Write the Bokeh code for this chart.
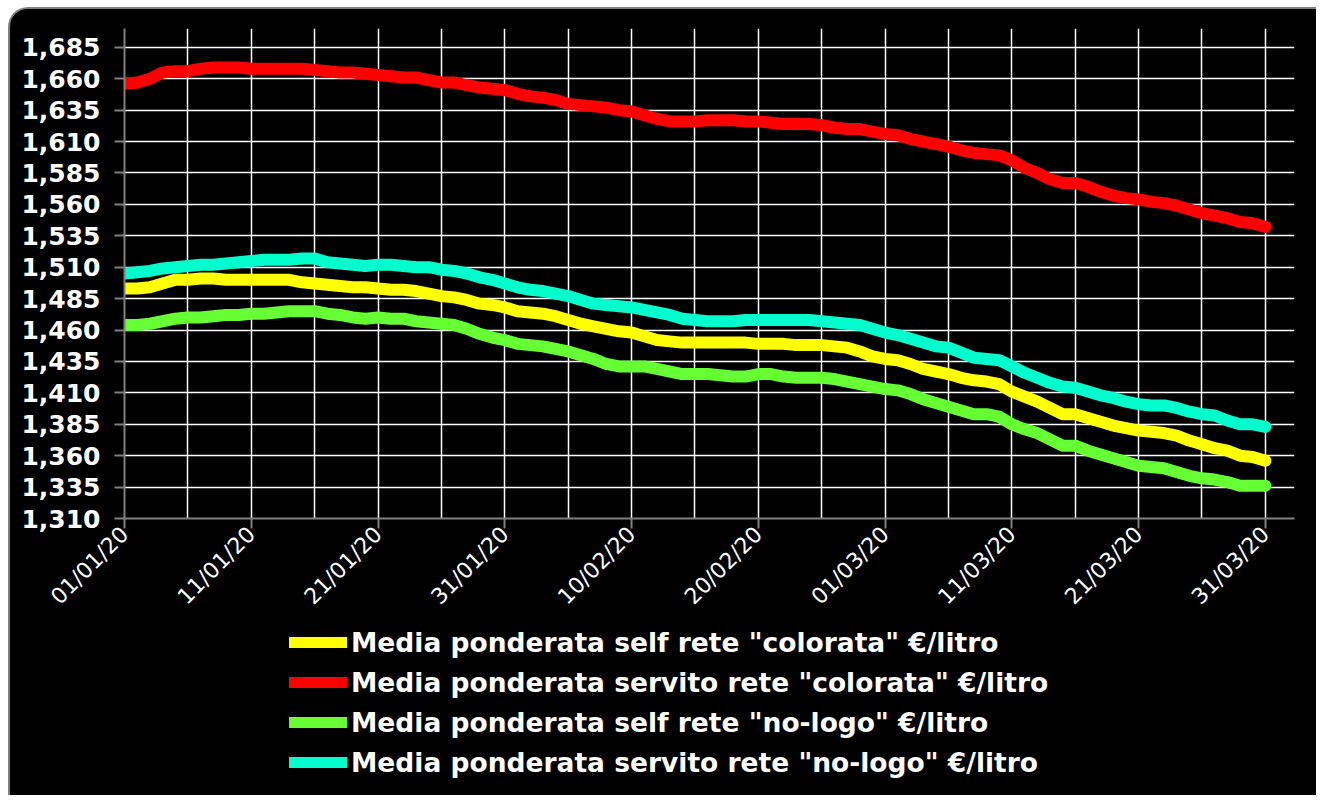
from bokeh.plotting import figure
from bokeh.models import (FixedTicker, CustomJSTickFormatter, Legend, LegendItem, Range1d)
from bokeh.layouts import column
from bokeh.embed import file_html
from bokeh.resources import INLINE
import math

# ---- data (daily, 01/01/20 .. 31/03/20) ----
days = list(range(91))
tick_days = [0, 10, 20, 30, 40, 50, 60, 70, 80, 90]
tick_labels = ["01/01/20", "11/01/20", "21/01/20", "31/01/20", "10/02/20",
               "20/02/20", "01/03/20", "11/03/20", "21/03/20", "31/03/20"]
y_ticks = [1.310, 1.335, 1.360, 1.385, 1.410, 1.435, 1.460, 1.485, 1.510,
           1.535, 1.560, 1.585, 1.610, 1.635, 1.660, 1.685]

servito_colorata = [1.656, 1.657, 1.660, 1.665, 1.666, 1.666, 1.668, 1.669, 1.669, 1.669,
                    1.668, 1.668, 1.668, 1.668, 1.668, 1.667, 1.666, 1.665, 1.665, 1.664,
                    1.663, 1.662, 1.661, 1.661, 1.659, 1.657, 1.657, 1.655, 1.653, 1.652,
                    1.651, 1.648, 1.646, 1.645, 1.643, 1.640, 1.639, 1.638, 1.637, 1.635,
                    1.634, 1.631, 1.628, 1.626, 1.626, 1.626, 1.627, 1.627, 1.627, 1.626,
                    1.626, 1.625, 1.624, 1.624, 1.624, 1.623, 1.621, 1.620, 1.620, 1.618,
                    1.616, 1.615, 1.612, 1.610, 1.608, 1.606, 1.603, 1.601, 1.600, 1.599,
                    1.595, 1.589, 1.585, 1.580, 1.577, 1.577, 1.574, 1.570, 1.567, 1.565,
                    1.564, 1.562, 1.561, 1.559, 1.556, 1.553, 1.551, 1.549, 1.546, 1.545,
                    1.542]

self_colorata = [1.493, 1.493, 1.494, 1.497, 1.500, 1.500, 1.501, 1.501, 1.500, 1.500,
                 1.500, 1.500, 1.500, 1.500, 1.498, 1.497, 1.496, 1.495, 1.494, 1.494,
                 1.493, 1.492, 1.492, 1.491, 1.489, 1.487, 1.486, 1.484, 1.481, 1.480,
                 1.478, 1.475, 1.474, 1.473, 1.471, 1.468, 1.465, 1.463, 1.461, 1.459,
                 1.458, 1.455, 1.452, 1.451, 1.450, 1.450, 1.450, 1.450, 1.450, 1.450,
                 1.449, 1.449, 1.449, 1.448, 1.448, 1.448, 1.447, 1.446, 1.443, 1.439,
                 1.437, 1.436, 1.433, 1.429, 1.427, 1.425, 1.422, 1.420, 1.419, 1.417,
                 1.411, 1.407, 1.403, 1.398, 1.393, 1.393, 1.390, 1.387, 1.384, 1.382,
                 1.380, 1.379, 1.378, 1.376, 1.372, 1.369, 1.366, 1.364, 1.360, 1.359,
                 1.356]

self_nologo = [1.464, 1.464, 1.465, 1.467, 1.469, 1.470, 1.470, 1.471, 1.472, 1.472,
               1.473, 1.473, 1.474, 1.475, 1.475, 1.475, 1.473, 1.472, 1.470, 1.469,
               1.470, 1.469, 1.469, 1.467, 1.466, 1.465, 1.464, 1.461, 1.457, 1.454,
               1.452, 1.449, 1.448, 1.447, 1.445, 1.443, 1.440, 1.437, 1.433, 1.431,
               1.431, 1.431, 1.429, 1.427, 1.425, 1.425, 1.425, 1.424, 1.423, 1.423,
               1.425, 1.425, 1.423, 1.422, 1.422, 1.422, 1.421, 1.419, 1.417, 1.415,
               1.413, 1.412, 1.409, 1.405, 1.402, 1.399, 1.396, 1.393, 1.393, 1.391,
               1.385, 1.381, 1.378, 1.373, 1.368, 1.368, 1.364, 1.361, 1.358, 1.355,
               1.352, 1.351, 1.350, 1.347, 1.344, 1.342, 1.341, 1.339, 1.336, 1.336,
               1.336]

servito_nologo = [1.505, 1.506, 1.507, 1.509, 1.510, 1.511, 1.512, 1.512, 1.513, 1.514,
                  1.515, 1.516, 1.516, 1.516, 1.517, 1.517, 1.514, 1.513, 1.512, 1.511,
                  1.512, 1.512, 1.511, 1.510, 1.510, 1.508, 1.507, 1.505, 1.502, 1.500,
                  1.497, 1.494, 1.492, 1.491, 1.489, 1.487, 1.484, 1.481, 1.480, 1.479,
                  1.478, 1.476, 1.474, 1.472, 1.469, 1.468, 1.467, 1.467, 1.467, 1.468,
                  1.468, 1.468, 1.468, 1.468, 1.468, 1.467, 1.466, 1.465, 1.464, 1.461,
                  1.458, 1.456, 1.453, 1.450, 1.447, 1.446, 1.442, 1.438, 1.437, 1.436,
                  1.431, 1.426, 1.422, 1.418, 1.415, 1.414, 1.411, 1.408, 1.406, 1.403,
                  1.401, 1.400, 1.400, 1.398, 1.395, 1.393, 1.392, 1.388, 1.385, 1.385,
                  1.383]

series = [
    ('Media ponderata self rete "colorata" €/litro', self_colorata, "#FFFF00"),
    ('Media ponderata servito rete "colorata" €/litro', servito_colorata, "#FF0000"),
    ('Media ponderata self rete "no-logo" €/litro', self_nologo, "#66FF33"),
    ('Media ponderata servito rete "no-logo" €/litro', servito_nologo, "#00FFCC"),
]

W = 1306
H1 = 612
H2 = 174

# ---- main chart ----
p = figure(width=W, height=H1, output_backend="svg", toolbar_location=None,
           x_range=Range1d(0, 92.3), y_range=Range1d(1.310, 1.700),
           background_fill_color="black", border_fill_color="black",
           min_border_left=114, min_border_right=22, min_border_top=19,
           min_border_bottom=100)
p.outline_line_color = None

p.xgrid.ticker = FixedTicker(ticks=list(range(0, 95, 5)))
p.ygrid.ticker = FixedTicker(ticks=y_ticks)
for g in (p.xgrid, p.ygrid):
    g.grid_line_color = "white"
    g.grid_line_width = 1.5

p.xaxis.ticker = FixedTicker(ticks=tick_days)
p.xaxis.major_label_overrides = {d: l for d, l in zip(tick_days, tick_labels)}
p.xaxis.major_label_orientation = math.pi / 4
p.yaxis.ticker = FixedTicker(ticks=y_ticks)
p.yaxis.formatter = CustomJSTickFormatter(code="return tick.toFixed(3).replace('.', ',');")
for ax in (p.xaxis, p.yaxis):
    ax.axis_line_color = "#808080"
    ax.axis_line_width = 2
    ax.major_tick_line_color = "#808080"
    ax.major_tick_line_width = 2
    ax.major_tick_out = 10
    ax.major_tick_in = 0
    ax.minor_tick_line_color = None
    ax.major_label_text_color = "white"
    ax.major_label_text_font = "DejaVu Sans"
p.yaxis.major_label_text_font_size = "25px"
p.yaxis.major_label_text_font_style = "bold"
p.yaxis.major_label_standoff = 14
p.xaxis.major_label_text_font_size = "22px"
p.xaxis.major_label_standoff = 2

for label, vals, color in series:
    p.line(days, vals, line_color=color, line_width=12, line_cap="round",
           line_join="round")

# ---- legend strip ----
q = figure(width=W, height=H2, output_backend="svg", toolbar_location=None,
           x_range=Range1d(0, 1), y_range=Range1d(0, 1),
           x_axis_location=None, y_axis_location=None,
           background_fill_color="black", border_fill_color="black",
           min_border_left=0, min_border_right=0, min_border_top=0,
           min_border_bottom=0)
q.outline_line_color = None
q.xgrid.visible = False
q.ygrid.visible = False

items = []
for label, vals, color in series:
    r = q.line(days, vals, line_color=color, line_width=11, line_cap="round")
    items.append(LegendItem(label=label, renderers=[r]))

legend = Legend(items=items, location=(165, 15), orientation="vertical",
                background_fill_alpha=0, border_line_color=None,
                label_text_color="white", label_text_font="DejaVu Sans",
                label_text_font_style="bold", label_text_font_size="26.5px",
                glyph_width=58, glyph_height=36, label_height=36,
                label_standoff=4, spacing=4, padding=4, margin=0)
q.add_layout(legend, "center")

inner = column(p, q, spacing=0,
               styles={"border-top": "2px solid #808080", "border-left": "2px solid #808080",
                       "border-top-left-radius": "20px", "overflow": "hidden",
                       "background-color": "black"})
outer = column(inner, styles={"padding": "7px 0px 0px 8px", "background-color": "white"})

open("out.html", "w").write(file_html(outer, INLINE))
